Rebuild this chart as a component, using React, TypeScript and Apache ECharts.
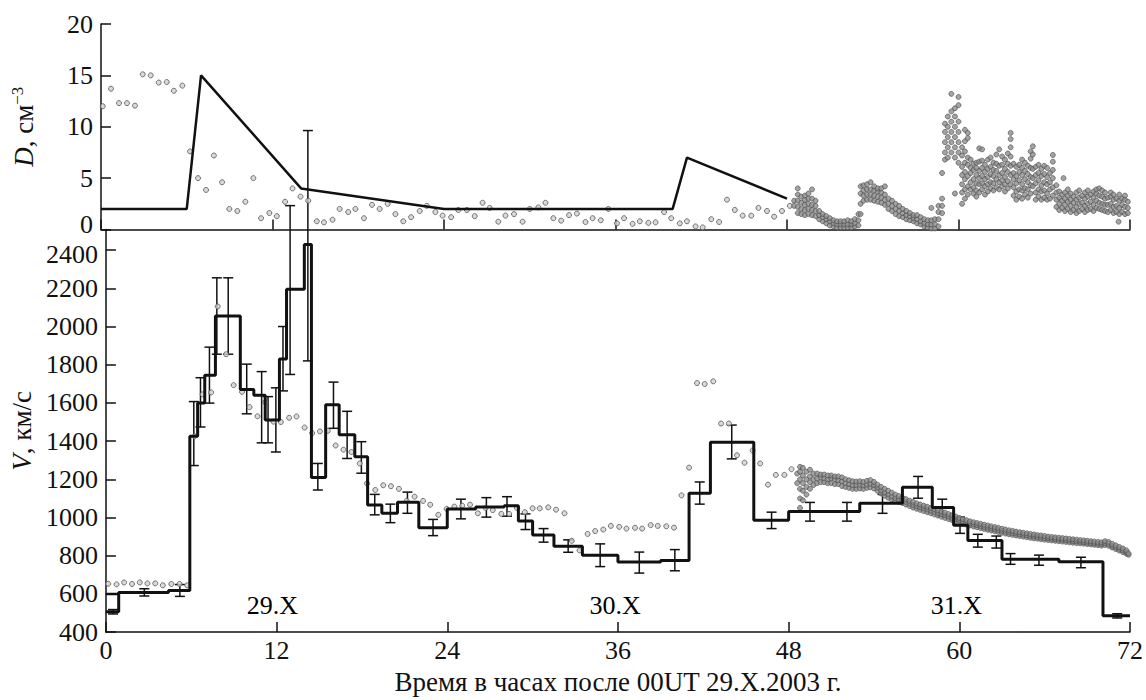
import React, { useEffect, useRef } from 'react';
import * as echarts from 'echarts';

// ---------- data (hours after 00UT 29.X.2003) ----------
const xTicks = [0, 12, 24, 36, 48, 60, 72];

// model density D, cm^-3 (polyline)
const dModel: number[][] = [[0, 2], [6, 2], [7, 15], [14, 4], [24, 2], [40, 2], [41, 7], [48, 3]];

// measured density, sparse points [t, D]
const dSparse: number[][] = [
  [0.12, 12.0], [0.7, 13.7], [1.26, 12.3], [1.82, 12.3], [2.38, 12.05], [2.92, 15.1], [3.48, 15.0], [4.04, 14.3],
  [4.6, 14.35], [5.1, 13.5], [5.69, 14.0], [6.23, 7.6], [6.79, 5.0], [7.35, 3.85], [7.9, 7.2], [8.47, 4.6],
  [8.98, 2.0], [9.54, 1.8], [10.1, 2.7], [10.66, 5.0], [11.2, 1.1], [11.78, 1.6], [12.3, 1.3], [12.88, 2.7],
  [13.4, 4.0], [13.96, 3.2], [14.5, 2.8], [15.1, 0.8], [15.6, 0.7], [16.2, 0.95], [16.7, 2.0], [17.3, 1.7],
  [17.8, 2.0], [18.4, 1.1], [18.96, 2.4], [19.5, 2.0], [20.06, 2.5], [20.6, 1.5], [21.15, 0.8], [21.7, 1.2],
  [22.3, 1.8], [22.8, 2.3], [23.4, 1.7], [23.9, 1.35], [24.5, 1.2], [25.0, 1.9], [25.6, 1.9], [26.15, 1.3],
  [26.7, 2.6], [27.2, 2.1], [27.8, 0.76], [28.3, 1.35], [28.9, 1.5], [29.5, 0.76], [30.0, 2.0], [30.6, 2.15],
  [31.1, 2.6], [31.65, 1.1], [32.2, 0.86], [32.75, 1.4], [33.3, 1.55], [33.9, 0.73], [34.4, 1.1], [34.97, 0.9],
  [35.5, 2.0], [36.1, 0.6], [36.6, 1.1], [37.2, 0.55], [37.7, 0.8], [38.3, 0.65], [38.8, 0.7], [39.4, 1.7],
  [39.9, 1.1], [40.5, 0.6], [41.0, 0.8], [41.6, 0.3], [42.1, 0.2], [42.7, 1.0], [43.25, 0.73], [43.8, 2.9],
  [44.35, 1.9], [44.9, 1.35], [45.5, 1.35], [46.0, 2.1], [46.6, 1.8], [47.1, 1.25], [47.65, 1.8], [48.2, 2.3],
];

// measured density, dense part: each row = [t, D values read at that time]
const dDense: number[][] = [
  [48.5, 2.3, 2.8], [48.75, 1.6, 2.2, 2.8, 3.4, 4.0], [49.0, 1.5, 2.0, 2.6, 3.2], [49.25, 1.4, 1.9, 2.4, 2.9, 3.3],
  [49.5, 1.5, 2.0, 2.5, 3.0, 3.5], [49.75, 1.4, 1.9, 2.4, 3.0, 3.9], [50.0, 1.3, 1.8, 2.3, 2.8], [50.25, 1.0, 1.4, 1.8],
  [50.5, 0.8, 1.2, 1.5], [50.75, 0.6, 1.0, 1.3], [51.0, 0.4, 0.8, 1.1], [51.25, 0.3, 0.6, 0.9], [51.5, 0.2, 0.5, 0.8],
  [51.75, 0.2, 0.5, 0.8], [52.0, 0.2, 0.5, 0.8], [52.25, 0.2, 0.5, 0.9], [52.5, 0.2, 0.5, 0.8], [52.75, 0.3, 0.6, 1.0],
  [53.0, 0.4, 0.9, 1.5], [53.15, 1.5, 2.5, 3.5, 4.2], [53.35, 2.8, 3.3, 3.8, 4.3], [53.6, 2.9, 3.4, 3.9, 4.4],
  [53.85, 2.9, 3.4, 3.9, 4.6], [54.1, 2.8, 3.3, 3.8, 4.2], [54.35, 2.7, 3.2, 3.7, 4.0], [54.6, 2.6, 3.1, 3.6, 4.0],
  [54.85, 2.4, 2.9, 3.4, 4.2], [55.1, 2.0, 2.5, 3.0], [55.35, 1.8, 2.3, 2.8], [55.6, 1.5, 2.0, 2.5], [55.85, 1.3, 1.8, 2.3],
  [56.1, 1.2, 1.6, 2.0], [56.35, 1.0, 1.4, 1.8], [56.6, 0.9, 1.3, 1.6], [56.85, 0.8, 1.1, 1.4], [57.1, 0.6, 1.0, 1.4],
  [57.35, 0.5, 0.8, 1.2], [57.6, 0.3, 0.6, 1.0], [57.85, 0.2, 0.5, 0.9], [58.1, 0.1, 0.5, 0.9, 2.1], [58.35, 0.1, 0.5, 1.0],
  [58.6, 0.3, 1.0, 1.7, 2.3], [58.85, 1.6, 2.3, 3.0, 5.5], [59.05, 6.8, 7.5, 8.5, 9.5, 10.3],
  [59.25, 7.0, 8.0, 9.0, 10.0, 11.0], [59.5, 7.5, 8.5, 9.5, 10.5, 11.5, 13.2], [59.75, 3.5, 7.0, 8.0, 9.0, 10.0, 11.0, 11.8],
  [60.0, 6.5, 7.5, 8.5, 9.5, 10.5, 12.1, 12.9],
  [60.25, 2.5, 3.6, 4.4, 5.3, 6.1, 7.2, 8.0], [60.45, 3.0, 3.9, 4.9, 5.6, 6.5, 7.6, 8.6, 9.7], [60.65, 3.4, 4.2, 5.2, 6.3, 7.0, 8.9, 9.4],
  [60.85, 3.9, 4.6, 5.5, 6.0, 6.8], [61.05, 3.5, 4.1, 4.9, 5.8, 6.4], [61.25, 3.2, 3.8, 4.5, 5.3, 6.0, 6.5],
  [61.45, 3.6, 4.4, 5.0, 5.7, 6.6, 7.9], [61.65, 3.9, 4.5, 5.2, 6.0, 6.7, 7.8], [61.85, 3.4, 4.2, 4.9, 5.6, 6.3],
  [62.05, 3.7, 4.4, 5.1, 5.9, 6.8], [62.25, 4.0, 4.6, 5.4, 6.1, 7.0], [62.45, 3.8, 4.5, 5.2, 5.8, 6.5],
  [62.65, 4.1, 4.9, 5.7, 6.4, 7.3], [62.85, 3.9, 4.6, 5.3, 6.2, 7.8], [63.05, 4.2, 4.8, 5.5, 6.3, 7.1],
  [63.25, 3.7, 4.4, 5.1, 5.9, 6.8], [63.45, 4.0, 4.7, 5.6, 6.4, 7.4], [63.65, 4.4, 5.3, 6.2, 7.1, 8.0, 8.8, 9.4],
  [63.85, 3.3, 4.1, 4.9, 5.5, 6.4], [64.05, 2.9, 3.7, 4.5, 5.2, 6.1], [64.25, 3.2, 3.9, 4.8, 5.6, 6.3],
  [64.45, 3.0, 3.8, 4.4, 5.3, 6.0, 6.8], [64.65, 3.4, 4.0, 4.9, 5.7, 6.5], [64.85, 3.1, 3.9, 4.6, 5.4, 6.2],
  [65.05, 3.5, 4.3, 5.1, 6.0, 6.9, 7.6], [65.2, 4.2, 5.0, 5.9, 7.3, 8.1], [65.4, 2.9, 3.6, 4.5, 5.3, 6.1],
  [65.6, 3.2, 3.9, 4.8, 5.5, 6.3], [65.8, 2.9, 3.7, 4.3, 5.2, 5.9], [66.0, 3.1, 3.8, 4.6, 5.4, 6.2],
  [66.2, 2.9, 3.5, 4.4, 5.1, 6.0], [66.4, 3.0, 3.9, 4.6, 5.5], [66.6, 3.3, 4.1, 5.0, 5.8, 6.6, 7.25],
  [66.85, 2.2, 2.9, 3.6, 4.3], [67.05, 1.9, 2.5, 3.1, 3.7], [67.25, 2.1, 2.8, 3.4], [67.35, 5.0],
  [67.45, 1.8, 2.4, 3.0, 3.6], [67.65, 2.0, 2.7, 3.3, 3.9], [67.85, 1.7, 2.3, 2.9, 3.5], [68.05, 1.9, 2.6, 3.2],
  [68.25, 1.6, 2.2, 2.9, 3.6], [68.45, 1.8, 2.5, 3.1, 3.8], [68.65, 2.0, 2.6, 3.3], [68.85, 1.7, 2.3, 3.0, 3.6],
  [69.05, 1.9, 2.5, 3.2, 3.8], [69.25, 2.0, 2.7, 3.4], [69.45, 1.8, 2.4, 3.1, 3.7], [69.65, 2.1, 2.8, 3.5, 3.9],
  [69.85, 2.0, 2.6, 3.3, 4.0], [70.05, 1.9, 2.5, 3.2, 3.8], [70.25, 1.8, 2.4, 3.0, 3.6], [70.45, 1.7, 2.4, 3.1],
  [70.65, 1.9, 2.5, 3.2, 3.6], [70.85, 1.6, 2.2, 2.9, 3.4], [71.05, 1.7, 2.3, 3.0], [71.2, 0.76],
  [71.25, 1.5, 2.1, 2.8, 3.4], [71.45, 1.7, 2.4, 3.0], [71.65, 1.5, 2.2, 2.9, 3.3], [71.85, 1.6, 2.1, 2.7],
];

// model speed V, km/s: bins [start, end, V]
const vBins: number[][] = [
  [0, 0.9, 507], [0.9, 4.4, 607], [4.4, 5.9, 618], [5.9, 6.45, 1425], [6.45, 6.95, 1600], [6.95, 7.7, 1745],
  [7.7, 8.6, 2055], [8.6, 9.45, 2055], [9.45, 10.4, 1670], [10.4, 11.2, 1640], [11.2, 12.2, 1510], [12.2, 12.7, 1830],
  [12.7, 13.95, 2195], [13.95, 14.45, 2430], [14.45, 15.45, 1210], [15.45, 16.4, 1590], [16.4, 17.5, 1433],
  [17.5, 18.4, 1318], [18.4, 19.4, 1065], [19.4, 20.5, 1022], [20.5, 22.0, 1080], [22.0, 24.0, 947],
  [24.0, 26.0, 1045], [26.0, 28.0, 1055], [28.0, 29.0, 1062], [29.0, 30.0, 982], [30.0, 31.5, 908],
  [31.5, 33.5, 849], [33.5, 36.0, 803], [36.0, 39.0, 767], [39.0, 41.0, 775], [41.0, 42.5, 1127],
  [42.5, 45.55, 1394], [45.55, 48.0, 985], [48.0, 53.0, 1031], [53.0, 56.0, 1075], [56.0, 58.1, 1159],
  [58.1, 59.6, 1053], [59.6, 60.6, 960], [60.6, 63.0, 879], [63.0, 67.0, 781], [67.0, 70.1, 768], [70.1, 72.0, 485],
];
const vStartLevel: number[][] = [[0, 600], [0.9, 600]];

// error bars [t, low, high]
const vErr: number[][] = [
  [0.5, 495, 518], [2.7, 589, 627], [5.2, 587, 649], [6.18, 1272, 1607], [6.65, 1474, 1732], [7.28, 1599, 1892],
  [7.8, 1855, 2255], [8.6, 1855, 2255], [9.9, 1543, 1803], [10.95, 1391, 1764], [11.4, 1391, 1633],
  [11.95, 1343, 1679], [12.45, 1663, 2000], [12.95, 1749, 2633], [14.2, 1820, 3026], [14.9, 1144, 1283],
  [16.0, 1467, 1709], [16.96, 1309, 1556], [17.96, 1232, 1397], [18.9, 1014, 1121], [20.0, 973, 1070],
  [21.2, 1022, 1133], [23.0, 905, 990], [24.96, 993, 1096], [26.75, 1002, 1104], [28.2, 1007, 1109],
  [29.5, 937, 1019], [30.77, 871, 942], [32.5, 818, 883], [34.75, 743, 862], [37.5, 709, 819], [40.0, 721, 832],
  [41.75, 1070, 1186], [44.0, 1307, 1484], [46.8, 942, 1028], [49.5, 981, 1079], [52.1, 981, 1079],
  [54.6, 1022, 1121], [57.1, 1101, 1215], [58.8, 1007, 1096], [60.05, 917, 1002], [61.3, 845, 912],
  [62.6, 840, 903], [63.6, 755, 811], [65.6, 750, 803], [68.55, 737, 792], [71.1, 474, 496],
];

// measured speed, sparse points [t, V]
const vSparse: number[][] = [
  [0.16, 653], [0.75, 650], [1.28, 660], [1.84, 652], [2.38, 660], [2.92, 655], [3.47, 655], [4.0, 645], [4.6, 652],
  [5.18, 652], [5.72, 645], [6.23, 1425], [6.8, 1645], [7.4, 1655], [7.86, 2105], [8.45, 1855], [8.98, 1693],
  [9.57, 1658], [10.1, 1578], [10.66, 1530], [11.2, 1604], [11.78, 1502], [12.3, 1500], [12.88, 1522], [13.4, 1529],
  [13.97, 1471], [14.5, 1442], [15.05, 1451], [15.6, 1454], [16.15, 1377], [16.7, 1355], [17.26, 1343], [17.85, 1283],
  [18.36, 1178], [18.94, 1144], [19.5, 1169], [20.04, 1164], [20.6, 1150], [21.15, 1087], [21.7, 1109], [22.3, 1087],
  [22.8, 1067], [23.37, 1014], [23.96, 1045], [24.5, 1057], [25.05, 1062], [25.6, 1067], [26.15, 1022], [26.7, 1050],
  [27.2, 1039], [27.8, 1019], [28.35, 1019], [28.9, 1050], [29.45, 1028], [30.0, 1048], [30.5, 1048], [31.1, 1053],
  [31.65, 1041], [32.24, 1022], [32.75, 878], [33.3, 828], [33.87, 914], [34.4, 929], [34.97, 937], [35.5, 956],
  [36.09, 951], [36.6, 942], [37.2, 946], [37.7, 942], [38.3, 960], [38.8, 956], [39.4, 954], [39.94, 947],
  [40.47, 1116], [41.0, 1261], [41.56, 1704], [42.1, 1699], [42.7, 1713], [43.25, 1492], [43.8, 1492], [44.37, 1326],
  [44.9, 1287], [45.47, 1351], [46.0, 1283], [46.55, 1172], [47.1, 1223], [47.7, 1223], [48.2, 1253],
];

// measured speed, dense part: each row = [t, V values read at that time]
const vDense: number[][] = [
  [48.6, 1180, 1230], [48.8, 1050, 1100, 1150, 1200, 1240, 1265], [49.0, 1090, 1140, 1180, 1220, 1260],
  [49.25, 1120, 1160, 1200, 1240], [49.5, 1150, 1185, 1215, 1250], [49.75, 1170, 1200, 1230], [50.0, 1180, 1205, 1230],
  [50.25, 1185, 1210, 1225], [50.5, 1185, 1205, 1225], [50.75, 1180, 1200, 1220], [51.0, 1180, 1205, 1220],
  [51.25, 1175, 1200, 1215], [51.5, 1175, 1195, 1215], [51.75, 1165, 1190, 1210], [52.0, 1160, 1180, 1200],
  [52.25, 1155, 1175, 1195], [52.5, 1150, 1170, 1190], [52.75, 1150, 1170, 1188], [53.0, 1152, 1172, 1190],
  [53.25, 1150, 1168, 1186], [53.5, 1155, 1172, 1192], [53.75, 1158, 1176, 1196], [54.0, 1152, 1170, 1186],
  [54.25, 1140, 1156, 1172], [54.5, 1126, 1142, 1160], [54.75, 1114, 1130, 1150], [55.0, 1104, 1120, 1140],
  [55.25, 1094, 1110, 1130], [55.5, 1088, 1102, 1120], [55.75, 1082, 1096, 1112], [56.0, 1076, 1090, 1104],
  [56.25, 1068, 1082, 1096], [56.5, 1060, 1074, 1088], [56.75, 1052, 1066, 1082], [57.0, 1046, 1060, 1074],
  [57.25, 1040, 1054, 1068], [57.5, 1034, 1048, 1062], [57.75, 1028, 1042, 1056], [58.0, 1022, 1036, 1050],
  [58.25, 1016, 1030, 1044], [58.5, 1010, 1024, 1038], [58.75, 1004, 1018, 1032], [59.0, 998, 1012, 1026],
  [59.25, 992, 1005, 1018], [59.5, 986, 998, 1012], [59.75, 980, 992, 1005], [60.0, 974, 986, 998],
  [60.25, 968, 980, 992], [60.5, 963, 975, 986], [60.75, 958, 969, 980], [61.0, 953, 964, 975],
  [61.25, 949, 960, 971], [61.5, 945, 956, 967], [61.75, 940, 951, 962], [62.0, 936, 947, 958],
  [62.25, 932, 943, 954], [62.5, 928, 939, 950], [62.75, 924, 935, 946], [63.0, 920, 930, 941],
  [63.25, 916, 926, 937], [63.5, 912, 922, 933], [63.75, 909, 919, 930], [64.0, 906, 916, 926],
  [64.25, 903, 913, 923], [64.5, 900, 910, 920], [64.75, 897, 907, 917], [65.0, 894, 904, 914],
  [65.25, 891, 901, 911], [65.5, 889, 898, 908], [65.75, 886, 896, 906], [66.0, 884, 893, 903],
  [66.25, 882, 891, 900], [66.5, 880, 889, 898], [66.75, 878, 887, 896], [67.0, 876, 885, 894],
  [67.25, 874, 883, 892], [67.5, 872, 881, 890], [67.75, 870, 879, 888], [68.0, 868, 877, 886],
  [68.25, 866, 875, 884], [68.5, 865, 873, 882], [68.75, 863, 871, 880], [69.0, 861, 869, 878],
  [69.25, 859, 867, 876], [69.5, 857, 865, 874], [69.75, 855, 863, 872], [70.0, 853, 861, 870],
  [70.25, 856, 866, 876], [70.5, 852, 862, 872], [70.75, 843, 852, 862], [71.0, 835, 844, 854],
  [71.25, 827, 836, 846], [71.5, 819, 828, 838], [71.75, 810, 818, 828], [71.9, 805, 812],
];

// day annotations [t, V, text]
const dayLabels: (number | string)[][] = [[11.7, 541, '29.X'], [35.8, 541, '30.X'], [59.8, 541, '31.X']];

const FONT = 'Liberation Serif, DejaVu Serif, serif';
const INK = '#111';

function expandRows(rows: number[][]): number[][] {
  const out: number[][] = [];
  rows.forEach((r) => r.slice(1).forEach((v) => out.push([r[0], v])));
  return out;
}

export default function App() {
  const ref = useRef<HTMLDivElement>(null);
  useEffect(() => {
    document.body.style.margin = '0';
    const chart = echarts.init(ref.current!, undefined, { renderer: 'svg' });

    const stepPts: number[][] = [];
    vBins.forEach((b) => {
      stepPts.push([b[0], b[2]]);
      stepPts.push([b[1], b[2]]);
    });

    const axisLineStyle = { color: INK, width: 1.5 };
    const tick = { show: true, inside: true, length: 10, lineStyle: { color: INK, width: 1.5 } };
    const labelStyle = { fontFamily: FONT, fontSize: 26, color: INK };
    const tokenBase = { fontFamily: FONT, fontSize: 26, color: INK };

    const sparseStyle = { color: '#d0d0d0', borderColor: '#555', borderWidth: 1 };
    const denseStyle = { color: '#8c8c8c', borderColor: '#4a4a4a', borderWidth: 0.8 };

    const option: any = {
      animation: false,
      backgroundColor: '#fff',
      textStyle: { fontFamily: FONT },
      grid: [
        { left: 101, right: 16, top: 24, height: 205.5 },
        { left: 101, right: 16, top: 229.5, height: 413.2 },
      ],
      xAxis: [
        {
          gridIndex: 0, type: 'value', min: 0, max: 72, interval: 12,
          axisLine: { show: true, lineStyle: axisLineStyle }, axisTick: tick,
          axisLabel: { show: false }, splitLine: { show: false },
        },
        {
          gridIndex: 1, type: 'value', min: 0, max: 72, interval: 12,
          axisLine: { show: true, lineStyle: axisLineStyle }, axisTick: tick,
          axisLabel: { ...labelStyle, margin: 5, formatter: (v: number) => (xTicks.includes(v) ? String(v) : '') },
          splitLine: { show: false },
          name: 'Время в часах после 00UT 29.X.2003 г.', nameLocation: 'middle', nameGap: 32,
          nameTextStyle: { fontFamily: FONT, fontSize: 27, color: INK },
        },
      ],
      yAxis: [
        {
          gridIndex: 0, type: 'value', min: 0, max: 20, interval: 5,
          axisLine: { show: true, lineStyle: axisLineStyle }, axisTick: tick,
          axisLabel: {
            ...labelStyle, margin: 8,
            formatter: (v: number) => (v === 0 ? '{lift|0}' : String(v)),
            rich: { lift: { ...tokenBase, padding: [0, 0, 10, 0] } },
          },
          splitLine: { show: false },
          name: '{i|D}, см{sup|−3}', nameLocation: 'middle', nameRotate: 90, nameGap: 63,
          nameTextStyle: {
            fontFamily: FONT, fontSize: 27, color: INK,
            rich: {
              i: { fontFamily: FONT, fontSize: 27, fontStyle: 'italic', color: INK },
              sup: { fontFamily: FONT, fontSize: 17, color: INK, verticalAlign: 'top', padding: [0, 0, 12, 0] },
            },
          },
        },
        {
          gridIndex: 1, type: 'value', min: 400, max: 2508, interval: 200,
          axisLine: { show: true, lineStyle: axisLineStyle }, axisTick: tick,
          axisLabel: {
            ...labelStyle, margin: 8, showMaxLabel: false,
            formatter: (v: number) => (v === 2400 ? '{drop|2400}' : v % 200 === 0 ? String(v) : ''),
            rich: { drop: { ...tokenBase, padding: [8, 0, 0, 0] } },
          },
          splitLine: { show: false },
          name: '{i|V}, км/с', nameLocation: 'middle', nameRotate: 90, nameGap: 63,
          nameTextStyle: {
            fontFamily: FONT, fontSize: 27, color: INK,
            rich: { i: { fontFamily: FONT, fontSize: 27, fontStyle: 'italic', color: INK } },
          },
        },
      ],
      series: [
        {
          type: 'scatter', xAxisIndex: 0, yAxisIndex: 0, data: dSparse, symbol: 'circle', symbolSize: 5,
          itemStyle: sparseStyle, silent: true,
        },
        {
          type: 'scatter', xAxisIndex: 0, yAxisIndex: 0, data: expandRows(dDense), symbol: 'circle', symbolSize: 5,
          itemStyle: denseStyle, silent: true,
        },
        {
          type: 'line', xAxisIndex: 0, yAxisIndex: 0, data: dModel, showSymbol: false, symbol: 'none',
          lineStyle: { color: INK, width: 2.5 }, silent: true,
        },
        {
          type: 'scatter', xAxisIndex: 1, yAxisIndex: 1, data: vSparse, symbol: 'circle', symbolSize: 5,
          itemStyle: sparseStyle, silent: true,
        },
        {
          type: 'scatter', xAxisIndex: 1, yAxisIndex: 1, data: expandRows(vDense), symbol: 'circle', symbolSize: 5,
          itemStyle: denseStyle, silent: true,
        },
        {
          type: 'line', xAxisIndex: 1, yAxisIndex: 1, data: stepPts, showSymbol: false, symbol: 'none',
          lineStyle: { color: INK, width: 3 }, silent: true,
        },
        {
          type: 'line', xAxisIndex: 1, yAxisIndex: 1, data: vStartLevel, showSymbol: false, symbol: 'none',
          lineStyle: { color: INK, width: 2.5 }, silent: true,
        },
        {
          type: 'custom', xAxisIndex: 1, yAxisIndex: 1, data: vErr, clip: false, silent: true,
          encode: { x: 0, y: [1, 2] },
          renderItem: (params: any, api: any) => {
            const t = api.value(0);
            const lo = api.coord([t, api.value(1)]);
            const hi = api.coord([t, api.value(2)]);
            const w = 5;
            const st = { stroke: INK, lineWidth: 1.5 };
            return {
              type: 'group',
              children: [
                { type: 'line', shape: { x1: lo[0], y1: lo[1], x2: hi[0], y2: hi[1] }, style: st },
                { type: 'line', shape: { x1: lo[0] - w, y1: lo[1], x2: lo[0] + w, y2: lo[1] }, style: st },
                { type: 'line', shape: { x1: hi[0] - w, y1: hi[1], x2: hi[0] + w, y2: hi[1] }, style: st },
              ],
            };
          },
        },
        {
          type: 'scatter', xAxisIndex: 1, yAxisIndex: 1, data: dayLabels, symbolSize: 1,
          itemStyle: { color: 'rgba(255,255,255,0)' }, silent: true,
          label: {
            show: true, position: 'inside', fontFamily: FONT, fontSize: 26, color: '#000',
            textBorderWidth: 0, opacity: 1,
            formatter: (p: any) => p.data[2],
          },
        },
      ],
    };
    chart.setOption(option);
    return () => chart.dispose();
  }, []);
  return <div ref={ref} style={{ width: 1146, height: 700 }} />;
}
